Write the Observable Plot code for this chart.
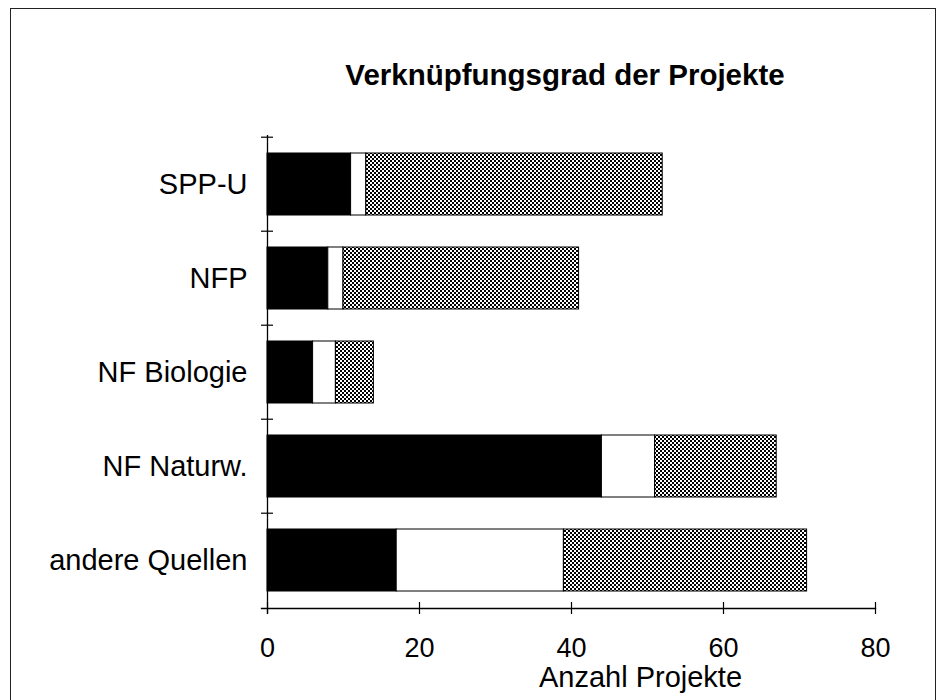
<!DOCTYPE html>
<html><head><meta charset="utf-8">
<script src="https://cdn.jsdelivr.net/npm/d3@7"></script>
<script src="https://cdn.jsdelivr.net/npm/@observablehq/plot@0.6"></script>
<style>
body{margin:0;background:#fff;}
#wrap{position:relative;width:940px;height:700px;overflow:hidden;font-family:"Liberation Sans",Arial,sans-serif;}
#frame{position:absolute;left:10px;top:8px;width:926px;height:740px;border:1.5px solid #222;box-sizing:border-box;pointer-events:none;}
#title{height:110px;box-sizing:border-box;padding-top:60px;padding-left:190px;text-align:center;font-weight:bold;font-size:29.5px;line-height:29px;color:#000;}
#chart svg{display:block;}
</style></head>
<body><div id="wrap"><div id="frame"></div><div id="title"></div><div id="chart"></div></div>
<script>
const title = "Verknüpfungsgrad der Projekte";
const categories = ["SPP-U", "NFP", "NF Biologie", "NF Naturw.", "andere Quellen"];
const segments = ["schwarz", "weiss", "gerastert"];
const schwarz = [11, 8, 6, 44, 17];
const weiss = [2, 2, 3, 7, 22];
const gerastert = [39, 31, 5, 16, 32];
const xTicks = [0, 20, 40, 60, 80];
const xLabel = "Anzahl Projekte";

document.getElementById("title").textContent = title;

const rows = categories.flatMap((c, i) => [
  {cat: c, seg: "schwarz", value: schwarz[i]},
  {cat: c, seg: "weiss", value: weiss[i]},
  {cat: c, seg: "gerastert", value: gerastert[i]}
]);

const H = 590, MT = 25, MB = 92;
const step = (H - MT - MB) / categories.length;

const chart = Plot.plot({
  width: 940, height: H,
  marginTop: MT, marginBottom: MB, marginLeft: 267, marginRight: 65,
  style: {fontFamily: "'Liberation Sans', Arial, sans-serif", color: "#000", background: "transparent", overflow: "visible"},
  x: {domain: [0, 80]},
  y: {domain: categories, paddingInner: 0.345, paddingOuter: 0.1725, label: null},
  color: {domain: segments, range: ["#000", "#fff", "url(#checker)"]},
  marks: [
    Plot.barX(rows, Plot.stackX({x: "value", y: "cat", fill: "seg", stroke: "#000", strokeWidth: 1})),
    Plot.ruleX([0], {stroke: "#000", strokeWidth: 1.3, insetBottom: -6}),
    Plot.frame({anchor: "bottom", insetLeft: -6, strokeWidth: 1.3, stroke: "#000"}),
    Plot.axisX({ticks: xTicks, tickSize: 12, dy: -6, tickPadding: 23, fontSize: 27, label: null, strokeWidth: 1.2}),
    Plot.axisY({tickSize: 12, dx: 6, dy: -step / 2, tickFormat: () => "", label: null, strokeWidth: 1.2}),
    Plot.axisY({tickSize: 0, tickPadding: 20, fontSize: 29, label: null}),
    Plot.text([xLabel], {frameAnchor: "bottom", dx: 69, dy: 58, lineAnchor: "top", fontSize: 29, fill: "#000"})
  ]
});

const defs = d3.select(chart).insert("defs", ":first-child");
const pat = defs.append("pattern").attr("id", "checker").attr("patternUnits", "userSpaceOnUse")
  .attr("width", 4).attr("height", 4);
pat.append("rect").attr("width", 4).attr("height", 4).attr("fill", "#fff");
pat.append("rect").attr("x", 0).attr("y", 0).attr("width", 2).attr("height", 2).attr("fill", "#000");
pat.append("rect").attr("x", 2).attr("y", 2).attr("width", 2).attr("height", 2).attr("fill", "#000");

document.getElementById("chart").appendChild(chart);
</script>
</body></html>
